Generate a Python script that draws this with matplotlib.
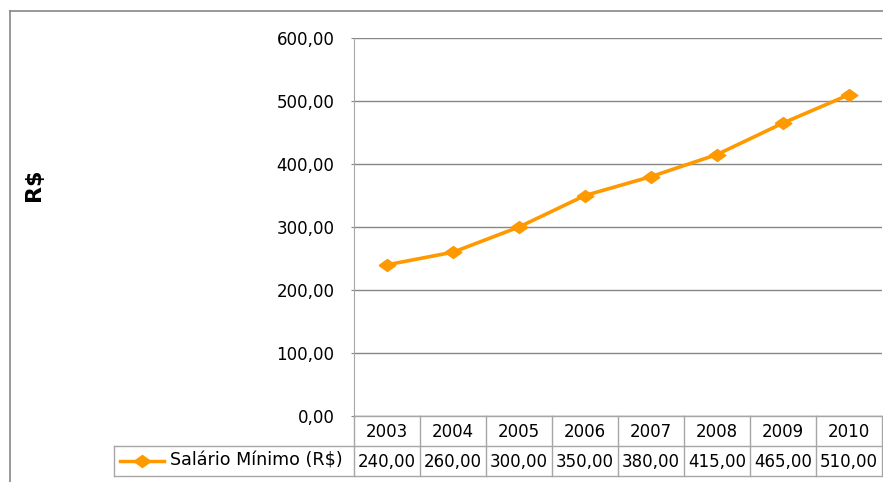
import matplotlib.pyplot as plt
from matplotlib.lines import Line2D

anos = ["2003", "2004", "2005", "2006", "2007", "2008", "2009", "2010"]
salario = [240.00, 260.00, 300.00, 350.00, 380.00, 415.00, 465.00, 510.00]
serie = "Salário Mínimo (R$)"
y_ticks = [0, 100, 200, 300, 400, 500, 600]

LARANJA = "#FF9900"
CINZA = "#878787"
CINZA_TAB = "#A6A6A6"


def fmt_br(v):
    return "{:.2f}".format(v).replace(".", ",")


plt.rcParams["font.family"] = "DejaVu Sans"

W, H = 883, 482
fig = plt.figure(figsize=(W / 100, H / 100), dpi=100)

# plot area in pixels
x0, x1, ytop, ybot = 354, 882, 38, 416

# background layer in pixel coords: frame, table, axis title
bg = fig.add_axes([0, 0, 1, 1])
bg.set_xlim(0, W)
bg.set_ylim(H, 0)
bg.axis("off")

bg.add_line(Line2D([10, 10], [11, H], color=CINZA, lw=1.2))
bg.add_line(Line2D([10, W], [11, 11], color=CINZA, lw=1.2))

bg.text(34, 185, "R$", rotation=90, ha="center", va="center",
        fontsize=16, fontweight="bold")

# data table under the axis
n = len(anos)
cw = (x1 - x0) / n
r1, r2, r3 = ybot, 446, 476
leg_left = 114
for i in range(n + 1):
    xx = x0 + i * cw
    bg.add_line(Line2D([xx, xx], [r1, r3], color=CINZA_TAB, lw=1))
bg.add_line(Line2D([x0, x1], [r1, r1], color=CINZA_TAB, lw=1))
bg.add_line(Line2D([leg_left, x1], [r2, r2], color=CINZA_TAB, lw=1))
bg.add_line(Line2D([leg_left, x1], [r3, r3], color=CINZA_TAB, lw=1))
bg.add_line(Line2D([leg_left, leg_left], [r2, r3], color=CINZA_TAB, lw=1))

for i, (ano, v) in enumerate(zip(anos, salario)):
    cx = x0 + (i + 0.5) * cw
    bg.text(cx, (r1 + r2) / 2 + 1, ano, ha="center", va="center", fontsize=12)
    bg.text(cx, (r2 + r3) / 2 + 1, fmt_br(v), ha="center", va="center", fontsize=12)

# legend key inside the table
bg.add_line(Line2D([120, 164], [461, 461], color=LARANJA, lw=2.5))
diamante = [(-1, 0), (0, 0.72), (1, 0), (0, -0.72), (-1, 0)]
bg.plot([142], [461], marker=diamante, markersize=12, color=LARANJA, lw=0)
bg.text(170, 461, serie, ha="left", va="center", fontsize=12.6)

# main chart
ax = fig.add_axes([x0 / W, (H - ybot) / H, (x1 - x0) / W, (ybot - ytop) / H])
ax.patch.set_alpha(0)
ax.plot(range(n), salario, color=LARANJA, lw=2.6, marker=diamante,
        markersize=12, label=serie, zorder=3, clip_on=False)
ax.set_xlim(-0.5, n - 0.5)
ax.set_ylim(0, 600)
ax.set_yticks(y_ticks)
ax.set_yticklabels([fmt_br(t) for t in y_ticks], fontsize=12)
ax.set_xticks([])
ax.yaxis.grid(True, color=CINZA, lw=1)
ax.set_axisbelow(True)
for s in ["top", "right", "bottom"]:
    ax.spines[s].set_visible(False)
ax.spines["left"].set_color(CINZA_TAB)
ax.tick_params(axis="y", length=2, color=CINZA, pad=12)

fig.savefig("out.png", dpi=100)
